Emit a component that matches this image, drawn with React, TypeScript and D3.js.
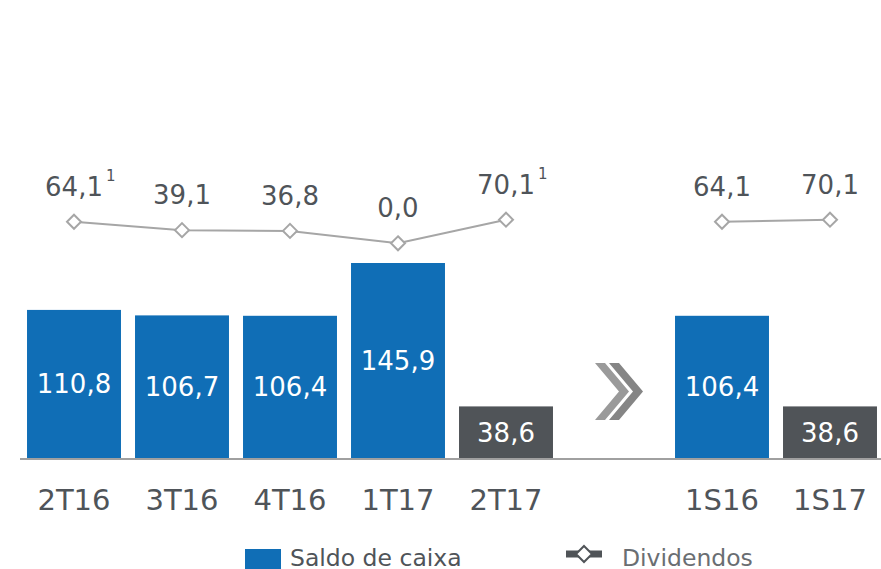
import React from "react";
import * as d3 from "d3";

const categories = ["2T16", "3T16", "4T16", "1T17", "2T17", "", "1S16", "1S17"];
const saldo: (number | null)[] = [110.8, 106.7, 106.4, 145.9, 38.6, null, 106.4, 38.6];
const barKind = ["blue", "blue", "blue", "blue", "gray", "", "blue", "gray"];
const dividendosLeft = [64.1, 39.1, 36.8, 0.0, 70.1];
const dividendosRight = [64.1, 70.1];
const divNotes = ["1", "", "", "", "1"];

const W = 881;
const H = 569;
const BLUE = "#106eb6";
const DARK = "#505458";
const TXT = "#4f5459";
const LINE = "#a6a6a6";
const FONT = "Verdana, 'DejaVu Sans', sans-serif";

const fmt = (v: number) => v.toFixed(1).replace(".", ",");

export default function App() {
  const x = d3.scaleBand().domain(categories.map((c, i) => String(i))).range([20, 884]).paddingInner(0.13).paddingOuter(0.065);
  const yBar = d3.scaleLinear().domain([0, 145.9]).range([458, 263]);
  const yDiv = d3.scaleLinear().domain([0, 70.1]).range([243.3, 219.7]);
  const cx = (i: number) => (x(String(i)) as number) + x.bandwidth() / 2;

  const line = d3.line<number>().x((_, i) => cx(i)).y((d) => yDiv(d));
  const lineR = d3.line<number>().x((_, i) => cx(i + 6)).y((d) => yDiv(d));

  const diamond = (px: number, py: number, r: number) =>
    `M${px},${py - r}L${px + r},${py}L${px},${py + r}L${px - r},${py}Z`;

  const arrowX = cx(5);
  const chevron = (ox: number) => {
    const t = 10, w = 24, top = 363, bot = 420, mid = (top + bot) / 2;
    return `M${ox},${top}L${ox + t},${top}L${ox + t + w},${mid}L${ox + t},${bot}L${ox},${bot}L${ox + w},${mid}Z`;
  };

  const divAll: { v: number; i: number; note: string }[] = [
    ...dividendosLeft.map((v, i) => ({ v, i, note: divNotes[i] })),
    ...dividendosRight.map((v, i) => ({ v, i: i + 6, note: "" })),
  ];

  return (
    <svg width={W} height={H} style={{ position: "absolute", left: 0, top: 0, background: "#fff" }} fontFamily={FONT}>
      {saldo.map((v, i) =>
        v == null ? null : (
          <g key={i}>
            <rect x={x(String(i))} y={yBar(v)} width={x.bandwidth()} height={yBar(0) - yBar(v)} fill={barKind[i] === "blue" ? BLUE : DARK} />
            <text x={cx(i)} y={(yBar(v) + yBar(0)) / 2 + 9.5} textAnchor="middle" fill="#fff" fontSize={26}>
              {fmt(v)}
            </text>
          </g>
        )
      )}
      <line x1={20} x2={881} y1={459} y2={459} stroke="#a0a0a0" strokeWidth={2} />
      {categories.map((c, i) => (
        <text key={i} x={cx(i)} y={510} textAnchor="middle" fill={TXT} fontSize={29}>
          {c}
        </text>
      ))}
      <path d={line(dividendosLeft) || ""} fill="none" stroke={LINE} strokeWidth={2} />
      <path d={lineR(dividendosRight) || ""} fill="none" stroke={LINE} strokeWidth={2} />
      {divAll.map((d, k) => (
        <g key={k}>
          <path d={diamond(cx(d.i), yDiv(d.v), 7)} fill="#fff" stroke={LINE} strokeWidth={2} />
          <text x={cx(d.i)} y={yDiv(d.v) - 26} textAnchor="middle" fill={TXT} fontSize={26}>
            {fmt(d.v)}
          </text>
          {d.note ? (
            <text x={cx(d.i) + 32} y={yDiv(d.v) - 41} textAnchor="start" fill={TXT} fontSize={15}>
              {d.note}
            </text>
          ) : null}
        </g>
      ))}
      <path d={chevron(arrowX - 19)} fill="#9a9a9a" />
      <path d={chevron(arrowX - 5)} fill="#858585" />
      <rect x={245} y={549} width={36} height={22} fill={BLUE} />
      <text x={290} y={566} fill={TXT} fontSize={23.5}>Saldo de caixa</text>
      <line x1={566} x2={602} y1={554} y2={554} stroke={DARK} strokeWidth={7} />
      <path d={diamond(584, 554, 8)} fill="#fff" stroke={DARK} strokeWidth={2} />
      <text x={622} y={566} fill="#6a6e72" fontSize={23.5}>Dividendos</text>
    </svg>
  );
}
